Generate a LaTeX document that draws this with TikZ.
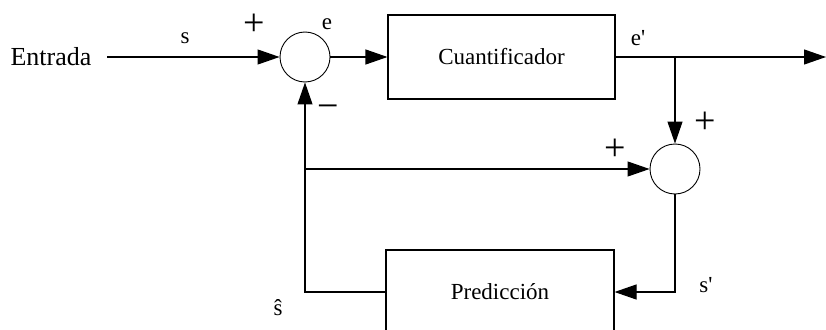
\documentclass[tikz,border=0pt]{standalone}
\usepackage{fontspec}
\setmainfont{Liberation Serif}
\usetikzlibrary{arrows.meta}
\begin{document}
\begin{tikzpicture}[x=1pt,y=-1pt, line width=1.1pt,
  >={Triangle[length=22pt,width=15pt]},
  sumnode/.style={circle,draw,line width=0.9pt,minimum size=50pt,inner sep=0pt},
  blockbox/.style={draw,line width=1.1pt,font=\fontsize{23}{28}\selectfont},
  lbl/.style={font=\fontsize{23}{28}\selectfont,inner sep=0pt},
  sgn/.style={font=\fontsize{38}{40}\selectfont,inner sep=0pt}]
\clip (0,0) rectangle (826,329);
\node[lbl, font=\fontsize{26}{30}\selectfont, anchor=base west] (in) at (10,65) {Entrada};
\coordinate (ins) at (107,57);
\node[sumnode] (s1) at (305,57) {};
\node[blockbox, minimum width=227pt, minimum height=84pt] (q) at (501.5,57) {Cuantificador};
\coordinate (br) at (675,57);
\coordinate (out) at (826,57);
\node[sumnode] (s2) at (675,169) {};
\coordinate (fb) at (305,169);
\node[blockbox, minimum width=228pt, minimum height=84pt] (p) at (500,292) {Predicción};
\draw[->] (ins) -- (s1.west);
\draw[->] (s1.east) -- (q.west);
\draw[->] (q.east) -- (out);
\draw[->] (br) -- (s2.north);
\draw[->] (s2.south) |- (p.east);
\draw[->] (p.west) -| (s1.south);
\draw[->] (fb) -- (s2.west);
\node[lbl] (ls) at (185,38) {s};
\node[lbl] (le) at (327,24) {e};
\node[lbl] (lep) at (638,38) {e\textquotesingle};
\node[lbl] (lsh) at (278,308) {ŝ};
\node[lbl] (lsp) at (706,285) {s\textquotesingle};
\node[sgn] (p1) at (254,25) {+};
\node[sgn] (m1) at (328,112) {−};
\node[sgn] (p2) at (705,123) {+};
\node[sgn] (p3) at (615,150) {+};
\end{tikzpicture}
\end{document}
